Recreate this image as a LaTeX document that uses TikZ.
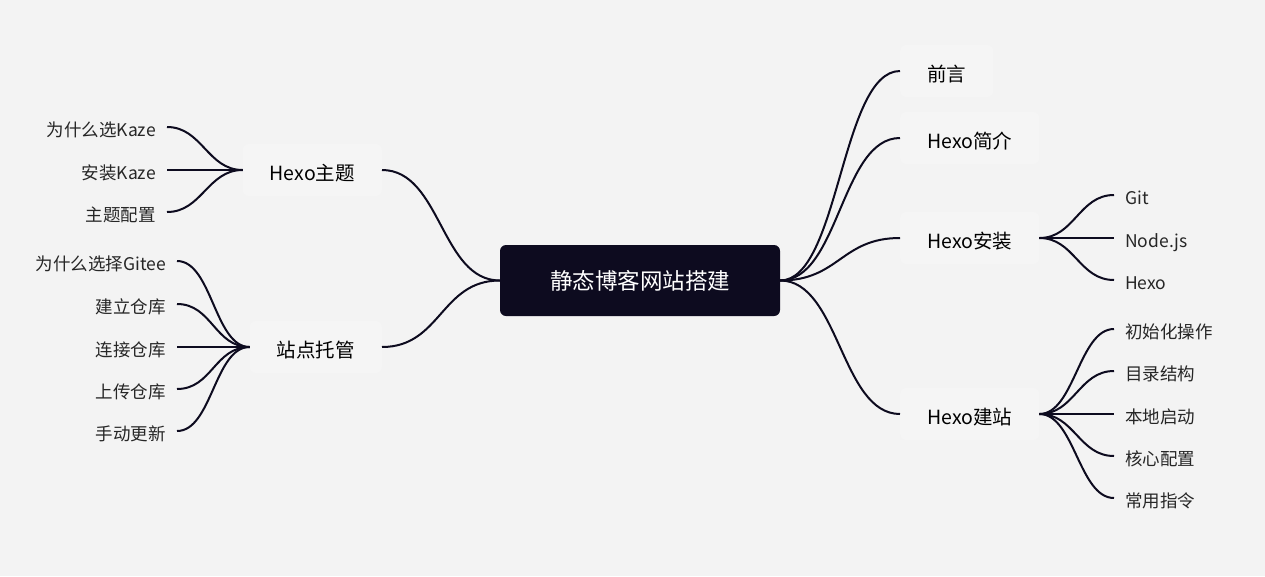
\documentclass[tikz,border=0pt]{standalone}
\usepackage{fontspec}
\setmainfont{Noto Sans CJK SC}
\definecolor{bgcol}{HTML}{F3F3F3}
\definecolor{boxcol}{HTML}{F5F5F5}
\definecolor{inkcol}{HTML}{0D0B1F}
\tikzset{
  rootbox/.style={fill=inkcol,rounded corners=6pt,text=white,minimum width=280pt,minimum height=71pt,font=\fontsize{22.5}{27}\selectfont},
  topicbox/.style={fill=boxcol,rounded corners=6pt,text=black,inner xsep=27pt,minimum height=52pt,text height=21pt,text depth=1pt,font=\fontsize{19.5}{23}\selectfont},
  leafbox/.style={inner xsep=11pt,inner ysep=2pt,text height=20pt,text depth=1pt,text=black!85,font=\fontsize{17.5}{21}\selectfont},
  branch/.style={draw=inkcol,line width=2pt}
}
\begin{document}
\begin{tikzpicture}[x=1pt,y=-1pt]
\fill[bgcol](0,0)rectangle(1265,576);
\useasboundingbox(0,0)rectangle(1265,576);
% centre
\node[rootbox](root)at(640,280.5){静态博客网站搭建};
% right side
\node[topicbox,anchor=west](qy)at(900,71){前言};
\node[topicbox,anchor=west](jj)at(900,138){Hexo简介};
\node[topicbox,anchor=west](az)at(900,238){Hexo安装};
\node[topicbox,anchor=west](jz)at(900,414){Hexo建站};
\node[leafbox,anchor=west](git)at(1114,195){Git};
\node[leafbox,anchor=west](node)at(1114,238){Node.js};
\node[leafbox,anchor=west](hexo)at(1114,280){Hexo};
\node[leafbox,anchor=west](csh)at(1114,329){初始化操作};
\node[leafbox,anchor=west](mljg)at(1114,371){目录结构};
\node[leafbox,anchor=west](bdqd)at(1114,414){本地启动};
\node[leafbox,anchor=west](hxpz)at(1114,456){核心配置};
\node[leafbox,anchor=west](cyzl)at(1114,498){常用指令};
% left side
\node[topicbox,anchor=east](zt)at(382,170){Hexo主题};
\node[topicbox,anchor=east](tg)at(382,347){站点托管};
\node[leafbox,anchor=east](wsm)at(167,127){为什么选Kaze};
\node[leafbox,anchor=east](azk)at(167,170){安装Kaze};
\node[leafbox,anchor=east](ztpz)at(167,212){主题配置};
\node[leafbox,anchor=east](gitee)at(177,261){为什么选择Gitee};
\node[leafbox,anchor=east](jlck)at(177,304){建立仓库};
\node[leafbox,anchor=east](ljck)at(177,347){连接仓库};
\node[leafbox,anchor=east](scck)at(177,389){上传仓库};
\node[leafbox,anchor=east](sdgx)at(177,431){手动更新};
% branches
\draw[branch](root.east)..controls +(59,0) and +(-59,0)..(qy.west);
\draw[branch](root.east)..controls +(59,0) and +(-59,0)..(jj.west);
\draw[branch](root.east)..controls +(59,0) and +(-59,0)..(az.west);
\draw[branch](root.east)..controls +(59,0) and +(-59,0)..(jz.west);
\draw[branch](root.west)..controls +(-59,0) and +(59,0)..(zt.east);
\draw[branch](root.west)..controls +(-59,0) and +(59,0)..(tg.east);
\draw[branch](az.east)..controls +(35,0) and +(-35,0)..(git.west);
\draw[branch](az.east)..controls +(35,0) and +(-35,0)..(node.west);
\draw[branch](az.east)..controls +(35,0) and +(-35,0)..(hexo.west);
\draw[branch](jz.east)..controls +(35,0) and +(-35,0)..(csh.west);
\draw[branch](jz.east)..controls +(35,0) and +(-35,0)..(mljg.west);
\draw[branch](jz.east)..controls +(35,0) and +(-35,0)..(bdqd.west);
\draw[branch](jz.east)..controls +(35,0) and +(-35,0)..(hxpz.west);
\draw[branch](jz.east)..controls +(35,0) and +(-35,0)..(cyzl.west);
\draw[branch](zt.west)..controls +(-35,0) and +(35,0)..(wsm.east);
\draw[branch](zt.west)..controls +(-35,0) and +(35,0)..(azk.east);
\draw[branch](zt.west)..controls +(-35,0) and +(35,0)..(ztpz.east);
\draw[branch](tg.west)..controls +(-35,0) and +(35,0)..(gitee.east);
\draw[branch](tg.west)..controls +(-35,0) and +(35,0)..(jlck.east);
\draw[branch](tg.west)..controls +(-35,0) and +(35,0)..(ljck.east);
\draw[branch](tg.west)..controls +(-35,0) and +(35,0)..(scck.east);
\draw[branch](tg.west)..controls +(-35,0) and +(35,0)..(sdgx.east);
\end{tikzpicture}
\end{document}
